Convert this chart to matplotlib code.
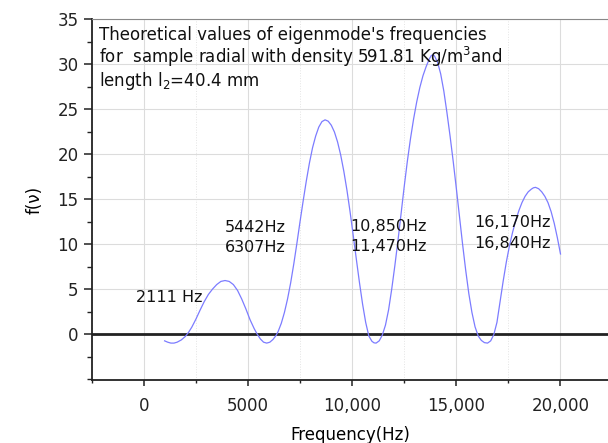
import matplotlib
matplotlib.use("Agg")
import matplotlib.pyplot as plt
from matplotlib.ticker import MultipleLocator

# curve (Hz, f(v))
freq = [1000, 1150, 1300, 1450, 1600, 1800, 2000, 2150, 2300, 2500, 2700, 2900,
        3100, 3300, 3500, 3700, 3900, 4100, 4300, 4500, 4700, 4900, 5100, 5300,
        5442, 5600, 5750, 5900, 6050, 6200, 6350,
        6450, 6600, 6750, 6900, 7050, 7200, 7350, 7500, 7650, 7800, 7950, 8100,
        8250, 8400, 8550, 8700, 8850, 9000, 9150, 9300, 9450, 9600, 9750, 9900,
        10050, 10200, 10350, 10500, 10650, 10800, 10950, 11050, 11150, 11300,
        11450, 11600, 11750, 11900, 12050, 12200, 12350, 12500, 12650, 12800,
        12950, 13100, 13250, 13400, 13550, 13700, 13800, 13880, 13950, 14100,
        14250, 14400, 14550, 14700, 14850, 15000, 15150, 15300, 15450, 15600,
        15750, 15900, 16050, 16200, 16350, 16500, 16650, 16800, 16950, 17100,
        17250, 17400, 17550, 17700, 17850, 18000, 18150, 18300, 18450, 18600,
        18700, 18800, 18950, 19100, 19250, 19400, 19550, 19700, 19850, 20000]
fv = [-0.75, -0.9, -1.0, -1.0, -0.9, -0.65, -0.25, 0.2, 0.75, 1.65, 2.65, 3.6,
      4.4, 5.0, 5.5, 5.85, 5.95, 5.85, 5.5, 4.85, 3.9, 2.8, 1.6, 0.6,
      0.0, -0.55, -0.9, -1.0, -0.9, -0.6, -0.15,
      0.3, 1.2, 2.4, 3.9, 5.7, 7.8, 10.1, 12.5, 14.8, 17.0, 19.0, 20.7,
      22.0, 23.0, 23.6, 23.8, 23.65, 23.2, 22.45, 21.35, 19.9, 18.1, 16.0, 13.6,
      11.0, 8.35, 5.75, 3.35, 1.3, -0.2, -0.8, -0.97, -1.0, -0.75,
      -0.1, 1.0, 2.7, 5.0, 7.6, 10.4, 13.4, 16.4, 19.2, 21.7,
      23.9, 25.8, 27.4, 28.7, 29.7, 30.55, 30.95, 31.0, 30.9, 30.2,
      28.9, 27.0, 24.6, 22.0, 19.2, 16.2, 13.1, 10.0, 7.1, 4.5,
      2.4, 0.8, -0.2, -0.7, -0.95, -1.0, -0.75, -0.05, 1.3, 3.6,
      5.9, 8.0, 9.8, 11.3, 12.6, 13.7, 14.6, 15.3, 15.8, 16.1,
      16.25, 16.3, 16.15, 15.8, 15.3, 14.6, 13.6, 12.3, 10.7, 8.9]

x_ticks = [0, 5000, 10000, 15000, 20000]
x_tick_labels = ["0", "5000", "10,000", "15,000", "20,000"]
y_ticks = [0, 5, 10, 15, 20, 25, 30, 35]

# labels: (text, x, y) in data coords
mode_labels = [("2111 Hz", -370, 4.1),
               ("5442Hz", 3900, 11.8), ("6307Hz", 3900, 9.6),
               ("10,850Hz", 9900, 11.9), ("11,470Hz", 9900, 9.7),
               ("16,170Hz", 15880, 12.4), ("16,840Hz", 15880, 10.1)]

note = ("Theoretical values of eigenmode's frequencies\n"
        "for  sample radial with density 591.81 Kg/m$^3$and\n"
        "length l$_2$=40.4 mm")

fig = plt.figure(figsize=(6.08, 4.43), dpi=100)
ax = fig.add_axes([0.1508, 0.1422, 0.8492, 0.8149])

ax.plot(freq, fv, color="#7c7cff", lw=0.9, zorder=3)
ax.axhline(0, color="#222222", lw=2.0, zorder=2)

ax.set_xlim(-2500, 22280)
ax.set_ylim(-5.1, 35)
ax.set_xticks(x_ticks)
ax.set_xticklabels(x_tick_labels)
ax.set_yticks(y_ticks)
ax.xaxis.set_minor_locator(MultipleLocator(2500))
ax.yaxis.set_minor_locator(MultipleLocator(2.5))

ax.grid(which="major", color="#dcdcdc", lw=0.8)
ax.grid(which="minor", axis="x", color="#e4e4e4", lw=0.7, ls=":")
ax.set_axisbelow(True)

ax.tick_params(which="major", direction="out", length=6, width=1.1,
               labelsize=12, colors="#222222")
ax.tick_params(which="minor", direction="out", length=3.5, width=1.0,
               colors="#222222")
ax.tick_params(axis="x", which="major", length=4, pad=8)
ax.tick_params(axis="x", which="minor", length=2.5)

ax.spines["right"].set_visible(False)
ax.spines["top"].set_color("#888888")
ax.spines["left"].set_color("#222222")
ax.spines["bottom"].set_color("#222222")
ax.spines["left"].set_linewidth(1.3)
ax.spines["bottom"].set_linewidth(1.3)

ax.set_xlabel("Frequency(Hz)", fontsize=12, labelpad=8)
ax.set_ylabel("f(ν)", fontsize=12, labelpad=10)

for txt, x, y in mode_labels:
    ax.text(x, y, txt, fontsize=11.5, ha="left", va="center", color="#111111")

ax.text(0.015, 0.98, note, transform=ax.transAxes, fontsize=12,
        ha="left", va="top", linespacing=1.05, color="#111111")

fig.savefig("out.png", dpi=100)
